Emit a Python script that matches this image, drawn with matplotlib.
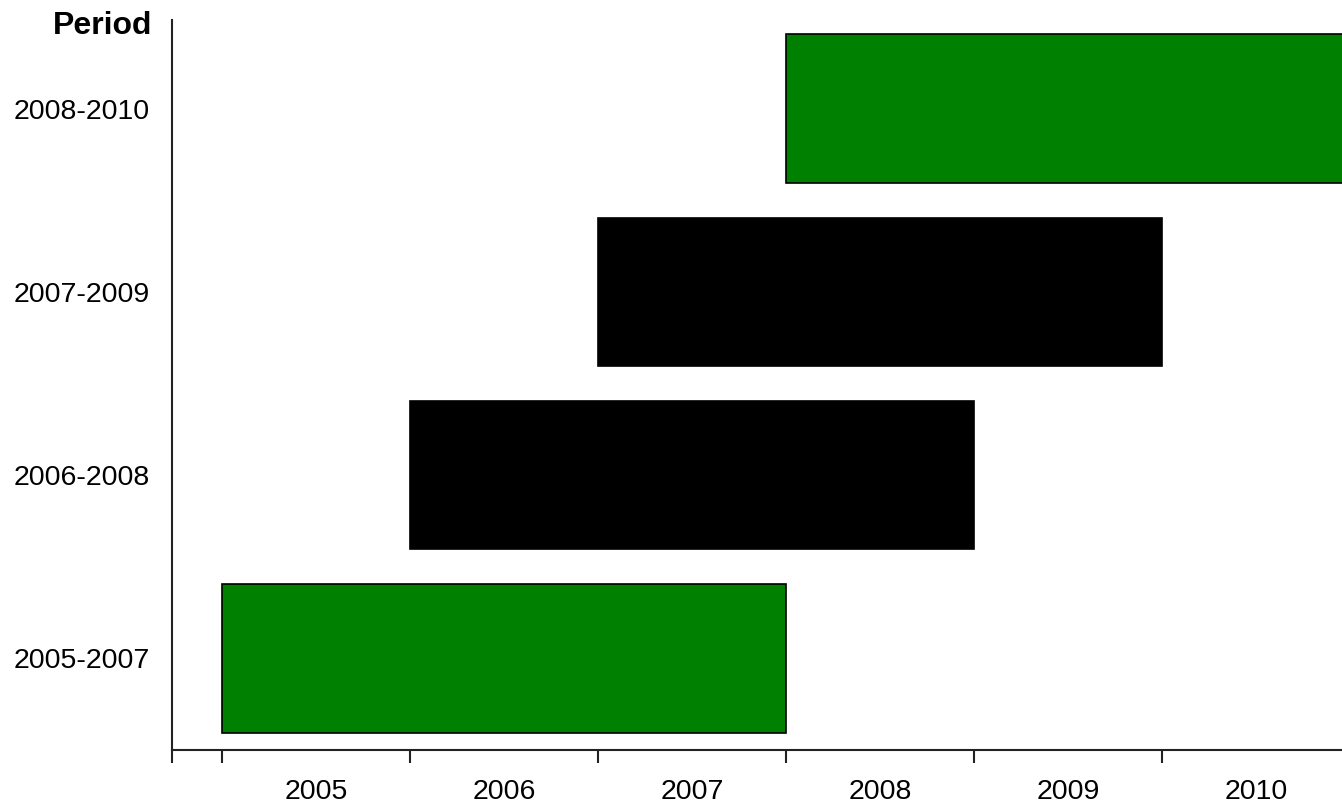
import matplotlib.pyplot as plt

periods = ['2005-2007', '2006-2008', '2007-2009', '2008-2010']
start_year = [2005, 2006, 2007, 2008]
duration = [3, 3, 3, 3]
colors = ['#008000', '#000000', '#000000', '#008000']
years = [2005, 2006, 2007, 2008, 2009, 2010]

plt.rcParams['font.family'] = ['Liberation Sans', 'DejaVu Sans']

fig = plt.figure(figsize=(13.42, 8.09), dpi=100)
ax = fig.add_axes([172/1342, 59/809, 1 - 172/1342, (750-20)/809])

ax.barh(range(len(periods)), duration, left=start_year, height=0.81,
        color=colors, edgecolor='black', linewidth=1.2)

ax.set_xlim(2004.734, 2010.957)
ax.set_ylim(-0.5, 3.483)

# ticks at year boundaries, labels centred in each year
ax.set_xticks([2004.734] + years)
ax.set_xticklabels([])
ax.set_xticks([y + 0.5 for y in years], minor=True)
ax.set_xticklabels([str(y) for y in years], minor=True, fontsize=20.5)
ax.tick_params(axis='x', which='major', direction='out', length=9, width=1.5, color='#222222')
ax.tick_params(axis='x', which='minor', length=0, pad=21)

ax.set_yticks(range(len(periods)))
ax.set_yticklabels(periods, fontsize=20.5)
ax.tick_params(axis='y', length=0, pad=16)

for s in ['top', 'right']:
    ax.spines[s].set_visible(False)
for s in ['left', 'bottom']:
    ax.spines[s].set_linewidth(1.5)
    ax.spines[s].set_color('#222222')

fig.text(152/1342, 1 - 26/809, 'Period', ha='right', va='center',
         fontsize=23, fontweight='bold')

fig.savefig('out.png', dpi=100)
